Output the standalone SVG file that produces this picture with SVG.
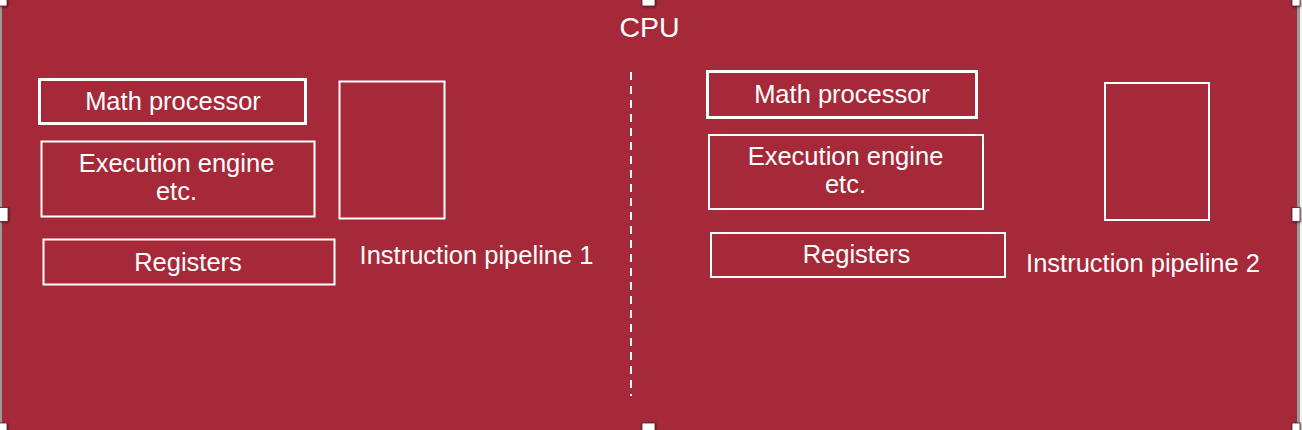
<svg xmlns="http://www.w3.org/2000/svg" width="1302" height="430" viewBox="0 0 1302 430">
<defs>
<style>
.box{fill:none;stroke:#ffffff;stroke-width:2}
.thick{stroke-width:3}
.t{font-family:"Liberation Sans",Arial,sans-serif;font-size:25.5px;fill:#ffffff;text-anchor:middle}
.h{fill:#ffffff;stroke:#5a1a22;stroke-width:0.8}
</style>
<filter id="sh" x="-50%" y="-50%" width="200%" height="200%"><feDropShadow dx="0.8" dy="0.8" stdDeviation="0.8" flood-color="#000" flood-opacity="0.5"/></filter>
</defs>
<rect x="0" y="0" width="1302" height="430" fill="#f2f2f2"/>
<rect x="0" y="0" width="1300" height="430" fill="#a62939"/>
<rect x="0" y="0" width="2" height="430" fill="#9a9a9a"/>
<rect x="1297" y="0" width="3" height="430" fill="#9a9a9a"/>
<g id="cpu-title"><text class="t" x="649.5" y="37" style="font-size:28.5px">CPU</text></g>
<g id="connectors">
<line x1="631" y1="72" x2="631" y2="396" stroke="#ffffff" stroke-width="2" stroke-dasharray="8 6"/>
</g>
<g id="math1"><rect class="box thick" x="39.5" y="79.5" width="266" height="44"/><text class="t" x="173" y="110">Math processor</text></g>
<g id="exec1"><rect class="box" x="41.5" y="141.5" width="273" height="75"/><text class="t" x="176.5" y="172">Execution engine</text><text class="t" x="176.5" y="200">etc.</text></g>
<g id="pipe1"><rect class="box" x="339.5" y="81.5" width="105" height="137"/></g>
<g id="reg1"><rect class="box" x="43.5" y="239.5" width="291" height="45"/><text class="t" x="188" y="271">Registers</text></g>
<g id="pipe1-label"><text class="t" x="476.5" y="264">Instruction pipeline 1</text></g>
<g id="math2"><rect class="box thick" x="707.5" y="71.5" width="269" height="46"/><text class="t" x="842" y="103">Math processor</text></g>
<g id="exec2"><rect class="box" x="709" y="135" width="274" height="74"/><text class="t" x="845.5" y="165">Execution engine</text><text class="t" x="845.5" y="193">etc.</text></g>
<g id="pipe2"><rect class="box" x="1105" y="83" width="104" height="137"/></g>
<g id="reg2"><rect class="box" x="711" y="233" width="294" height="44"/><text class="t" x="856.5" y="263">Registers</text></g>
<g id="pipe2-label"><text class="t" x="1143" y="272">Instruction pipeline 2</text></g>
<g id="handles" filter="url(#sh)">
<rect class="h" x="-1" y="-1" width="8" height="7"/>
<rect class="h" x="642" y="-1" width="13" height="7"/>
<rect class="h" x="1292" y="-1" width="8" height="7"/>
<rect class="h" x="-1" y="207.5" width="9" height="14"/>
<rect class="h" x="1292" y="207.5" width="8" height="14"/>
<rect class="h" x="-1" y="423" width="8" height="8"/>
<rect class="h" x="642" y="423" width="13" height="8"/>
<rect class="h" x="1292" y="423" width="8" height="8"/>
</g>
</svg>
